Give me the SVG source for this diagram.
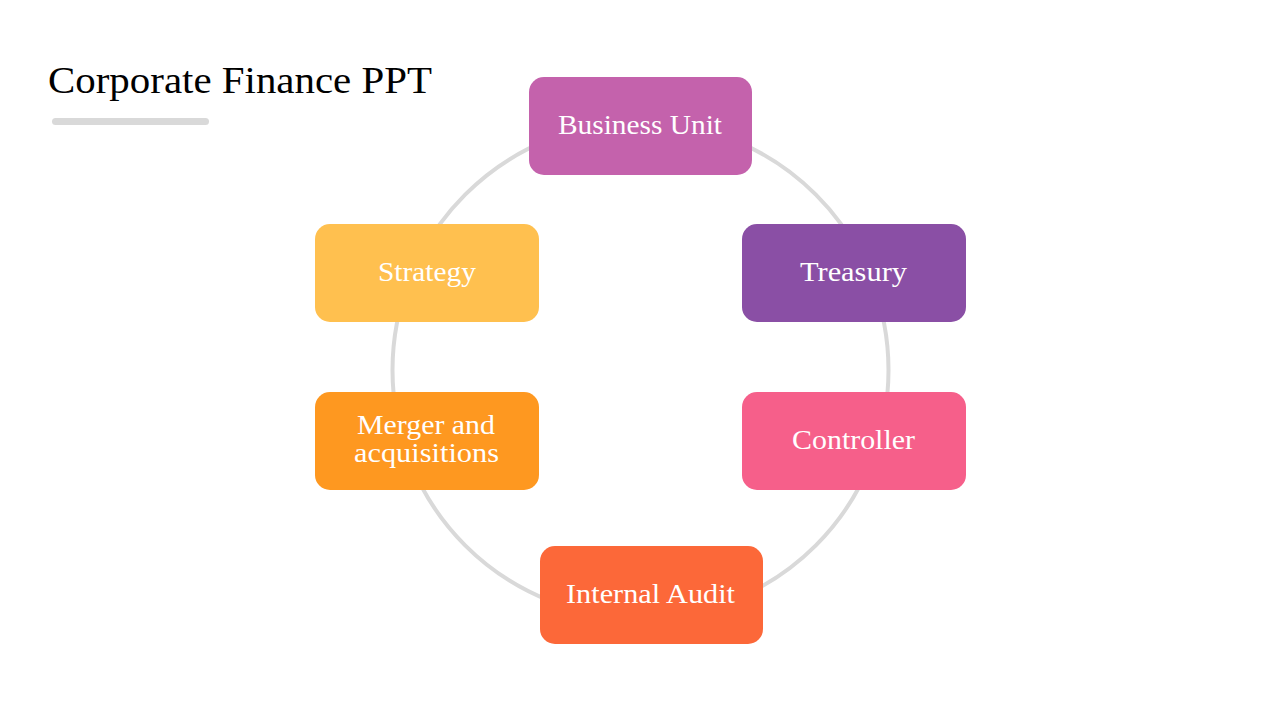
<svg xmlns="http://www.w3.org/2000/svg" width="1280" height="720" viewBox="0 0 1280 720">
<style>
.t{font-family:"Liberation Serif","DejaVu Serif",serif;fill:#fff;font-size:27px;text-anchor:middle}
.title{font-family:"Liberation Serif","DejaVu Serif",serif;fill:#000;font-size:38px}
</style>
<rect width="1280" height="720" fill="#fff"/>
<text class="title" x="48" y="93" textLength="384" lengthAdjust="spacingAndGlyphs">Corporate Finance PPT</text>
<rect x="52" y="118" width="157" height="7" rx="3.5" fill="#d9d9d9"/>
<g id="connectors">
<circle cx="640.5" cy="370" r="248" fill="none" stroke="#d9d9d9" stroke-width="4"/>
</g>
<g id="business-unit"><rect x="529" y="77" width="223" height="98" rx="15" fill="#c462ac"/><text class="t" x="640" y="134" textLength="164" lengthAdjust="spacingAndGlyphs">Business Unit</text></g>
<g id="strategy"><rect x="315" y="224" width="224" height="98" rx="15" fill="#ffc04f"/><text class="t" x="427" y="281" textLength="98" lengthAdjust="spacingAndGlyphs">Strategy</text></g>
<g id="treasury"><rect x="742" y="224" width="224" height="98" rx="15" fill="#8a4fa5"/><text class="t" x="853.5" y="281" textLength="107" lengthAdjust="spacingAndGlyphs">Treasury</text></g>
<g id="merger"><rect x="315" y="392" width="224" height="98" rx="15" fill="#fe9820"/><text class="t" x="426" y="434" textLength="138" lengthAdjust="spacingAndGlyphs">Merger and</text><text class="t" x="426.5" y="462" textLength="145" lengthAdjust="spacingAndGlyphs">acquisitions</text></g>
<g id="controller"><rect x="742" y="392" width="224" height="98" rx="15" fill="#f65f8a"/><text class="t" x="853.5" y="449" textLength="123" lengthAdjust="spacingAndGlyphs">Controller</text></g>
<g id="internal-audit"><rect x="540" y="546" width="223" height="98" rx="15" fill="#fc6839"/><text class="t" x="650.5" y="603" textLength="169" lengthAdjust="spacingAndGlyphs">Internal Audit</text></g>
</svg>
